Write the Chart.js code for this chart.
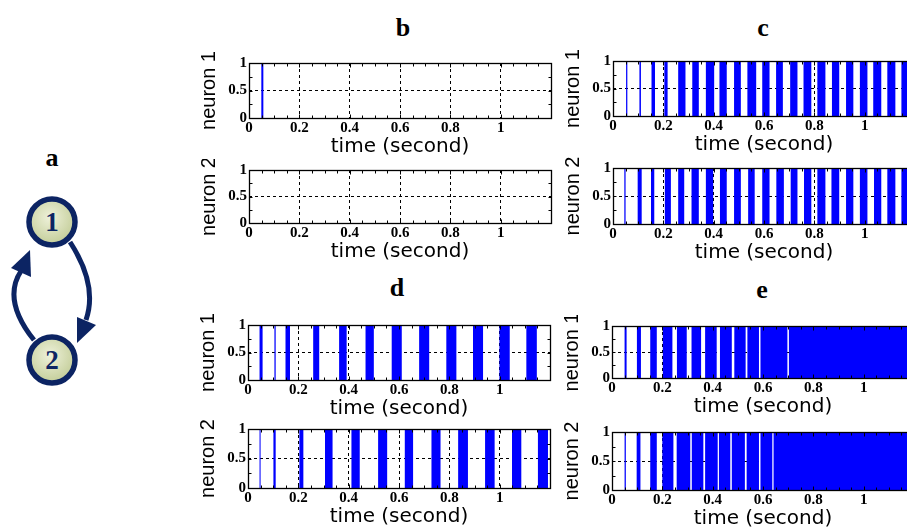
<!DOCTYPE html>
<html>
<head>
<meta charset="utf-8">
<script src="https://cdn.jsdelivr.net/npm/chart.js@4.4.1/dist/chart.umd.min.js"></script>
<style>
html, body { margin: 0; padding: 0; background: #fff; }
body { width: 907px; height: 530px; position: relative; overflow: hidden; }
canvas.panel { position: absolute; }
.lbl { position: absolute; font: bold 26px "Liberation Serif", serif; transform: translate(-50%, -50%); color: #000; }
svg { position: absolute; left: 0; top: 0; }
</style>
</head>
<body>

<svg width="120" height="420" viewBox="0 0 120 420">
  <defs>
    <radialGradient id="nodeFill" cx="45%" cy="40%" r="60%">
      <stop offset="0%" stop-color="#eef1da"/>
      <stop offset="100%" stop-color="#c3cd98"/>
    </radialGradient>
  </defs>
  <text x="52" y="166" text-anchor="middle" font-family="Liberation Serif" font-weight="bold" font-size="26">a</text>
  <path d="M 70 242 Q 98 285 86 320" fill="none" stroke="#0c2463" stroke-width="5"/>
  <polygon points="77,343 77,317 96,325" fill="#0c2463"/>
  <path d="M 34 340 Q 2 300 21 271" fill="none" stroke="#0c2463" stroke-width="5"/>
  <polygon points="30,250 11,268 31,277" fill="#0c2463"/>
  <circle cx="52" cy="222" r="23" fill="url(#nodeFill)" stroke="#0c2463" stroke-width="5.5"/>
  <text x="52" y="231" text-anchor="middle" font-family="Liberation Serif" font-weight="bold" font-size="27" fill="#0c2463">1</text>
  <circle cx="52" cy="360" r="23" fill="url(#nodeFill)" stroke="#0c2463" stroke-width="5.5"/>
  <text x="52" y="369" text-anchor="middle" font-family="Liberation Serif" font-weight="bold" font-size="27" fill="#0c2463">2</text>
</svg>

<div class="lbl" style="left:403px;top:28px;">b</div>
<div class="lbl" style="left:763px;top:28px;">c</div>
<div class="lbl" style="left:397px;top:288px;">d</div>
<div class="lbl" style="left:762px;top:290px;">e</div>

<script>
// spike intervals [start, end] in seconds
const b1Spikes = [[0, 0.004], [0.049, 0.058]];
const b2Spikes = [[0, 0.004]];

const c1Spikes = [[0, 0.004], [0.052, 0.057], [0.105, 0.111], [0.153, 0.167], [0.204, 0.217],
  [0.259, 0.288], [0.315, 0.341], [0.369, 0.402], [0.423, 0.452], [0.481, 0.508], [0.534, 0.569],
  [0.593, 0.622], [0.648, 0.675], [0.704, 0.733], [0.757, 0.788], [0.812, 0.844], [0.870, 0.899],
  [0.926, 0.955], [0.981, 1.011], [1.034, 1.066], [1.090, 1.122], [1.146, 1.169]];
const c2Spikes = [[0, 0.004], [0.045, 0.050], [0.098, 0.114], [0.151, 0.164], [0.206, 0.230],
  [0.259, 0.283], [0.312, 0.341], [0.369, 0.398], [0.425, 0.452], [0.481, 0.508], [0.537, 0.563],
  [0.593, 0.622], [0.649, 0.679], [0.706, 0.733], [0.759, 0.788], [0.812, 0.844], [0.868, 0.899],
  [0.926, 0.955], [0.981, 1.011], [1.037, 1.066], [1.090, 1.122], [1.146, 1.175]];

const d1Spikes = [[0.045, 0.058], [0.105, 0.110], [0.149, 0.167], [0.259, 0.283], [0.362, 0.392],
  [0.467, 0.500], [0.571, 0.611], [0.680, 0.720], [0.788, 0.828], [0.894, 0.934], [0.999, 1.040],
  [1.106, 1.148]];
const d2Spikes = [[0.045, 0.050], [0.101, 0.110], [0.204, 0.220], [0.306, 0.336], [0.411, 0.444],
  [0.517, 0.553], [0.623, 0.656], [0.729, 0.765], [0.835, 0.874], [0.942, 0.980], [1.049, 1.086],
  [1.152, 1.192]];

const e1Spikes = [[0, 0.004], [0.050, 0.058], [0.099, 0.115], [0.152, 0.178], [0.202, 0.240],
  [0.258, 0.297], [0.316, 0.354], [0.370, 0.416], [0.429, 0.476], [0.486, 0.531], [0.538, 0.584],
  [0.590, 0.697], [0.703, 1.2]];
const e2Spikes = [[0, 0.004], [0.050, 0.055], [0.098, 0.113], [0.152, 0.178], [0.200, 0.244],
  [0.257, 0.311], [0.317, 0.363], [0.370, 0.420], [0.425, 0.470], [0.476, 0.528], [0.535, 0.584],
  [0.590, 0.637], [0.642, 1.2]];

const xTickVals = [0, 0.2, 0.4, 0.6, 0.8, 1];
const yTickVals = [0, 0.5, 1];
const xMinorStep = 0.05;
const yMinorStep = 0.25;
const X_MAX = 1.2;

// layout around each plot box
const PAD_L = 52, PAD_B = 41, PAD_T = 8, PAD_R = 8;
const PLOT_W = 302;

const panels = [
  { spikes: b1Spikes, ylab: "neuron 1", left: 249, top: 60, h: 58 },
  { spikes: b2Spikes, ylab: "neuron 2", left: 249, top: 167, h: 56 },
  { spikes: c1Spikes, ylab: "neuron 1", left: 612.5, top: 58, h: 58 },
  { spikes: c2Spikes, ylab: "neuron 2", left: 612.5, top: 165, h: 59 },
  { spikes: d1Spikes, ylab: "neuron 1", left: 248, top: 322, h: 57.5 },
  { spikes: d2Spikes, ylab: "neuron 2", left: 248, top: 426, h: 61.5 },
  { spikes: e1Spikes, ylab: "neuron 1", left: 611.7, top: 323.3, h: 55 },
  { spikes: e2Spikes, ylab: "neuron 2", left: 611.7, top: 429.3, h: 60.7 }
];

// each firing interval becomes a filled box from 0 to 1
function toOutline(spikes) {
  const pts = [];
  spikes.forEach(([s, e]) => {
    pts.push({ x: s, y: 0 }, { x: s, y: 1 }, { x: e, y: 1 }, { x: e, y: 0 });
  });
  return pts;
}

// box + small inward ticks, matlab style
const framePlugin = {
  id: "frame",
  afterDatasetsDraw(chart) {
    const { ctx, chartArea: a, scales: { x, y } } = chart;
    ctx.save();
    ctx.strokeStyle = "#000";
    ctx.lineWidth = 1;
    ctx.setLineDash([]);
    const L = Math.round(a.left) + 0.5, R = Math.round(a.right) + 0.5;
    const T = Math.round(a.top) + 0.5, B = Math.round(a.bottom) + 0.5;
    ctx.beginPath();
    for (let k = 1; k * xMinorStep < X_MAX - 1e-6; k++) {
      const v = k * xMinorStep;
      const px = Math.round(x.getPixelForValue(v)) + 0.5;
      const len = (Math.abs(v * 5 - Math.round(v * 5)) < 1e-6) ? 4 : 3;
      ctx.moveTo(px, T); ctx.lineTo(px, T + len);
      ctx.moveTo(px, B); ctx.lineTo(px, B - len);
    }
    for (let k = 1; k * yMinorStep < 1 - 1e-6; k++) {
      const py = Math.round(y.getPixelForValue(k * yMinorStep)) + 0.5;
      ctx.moveTo(L, py); ctx.lineTo(L + 3, py);
      ctx.moveTo(R, py); ctx.lineTo(R - 3, py);
    }
    ctx.stroke();
    ctx.lineWidth = 1.3;
    ctx.strokeRect(L, T, R - L, B - T);
    ctx.restore();
  }
};

const tickFont = { family: "Liberation Serif", weight: "bold", size: 15 };

function makePanel(p) {
  const cv = document.createElement("canvas");
  cv.className = "panel";
  cv.width = PAD_L + PLOT_W + PAD_R;
  cv.height = Math.round(PAD_T + p.h + PAD_B);
  cv.style.left = (p.left - PAD_L) + "px";
  cv.style.top = (p.top - PAD_T) + "px";
  document.body.appendChild(cv);

  new Chart(cv.getContext("2d"), {
    type: "line",
    data: {
      datasets: [{
        data: toOutline(p.spikes),
        borderColor: "rgba(0,0,0,0)",
        borderWidth: 0,
        backgroundColor: "#0000ff",
        fill: "origin",
        pointRadius: 0,
        tension: 0
      }]
    },
    options: {
      responsive: false,
      animation: false,
      layout: { padding: { top: PAD_T, right: PAD_R, left: 0, bottom: 0 } },
      plugins: { legend: { display: false }, tooltip: { enabled: false } },
      scales: {
        x: {
          type: "linear",
          min: 0,
          max: X_MAX,
          afterBuildTicks: s => { s.ticks = xTickVals.map(v => ({ value: v })); },
          afterFit: s => { s.height = PAD_B; },
          ticks: {
            autoSkip: false, maxRotation: 0, padding: 1,
            color: "#000", font: tickFont,
            callback: v => String(v)
          },
          grid: {
            drawTicks: false, lineWidth: 1,
            color: c => (c.tick && c.tick.value > 0 && c.tick.value < X_MAX) ? "#000" : "rgba(0,0,0,0)"
          },
          border: { display: false, dash: [3, 3] },
          title: {
            display: true, text: "time (second)", color: "#000", padding: 0,
            font: { family: "DejaVu Sans", size: 20, lineHeight: 1.2 }
          }
        },
        y: {
          min: 0,
          max: 1,
          afterBuildTicks: s => { s.ticks = yTickVals.map(v => ({ value: v })); },
          afterFit: s => { s.width = PAD_L; },
          ticks: { padding: 2, color: "#000", font: tickFont, callback: v => String(v) },
          grid: {
            drawTicks: false, lineWidth: 1,
            color: c => (c.tick && c.tick.value > 0 && c.tick.value < 1) ? "#000" : "rgba(0,0,0,0)"
          },
          border: { display: false, dash: [3, 3] },
          title: {
            display: true, text: p.ylab, color: "#000", padding: 0,
            font: { family: "Liberation Sans", size: 20, lineHeight: 1.2 }
          }
        }
      }
    },
    plugins: [framePlugin]
  });
}

panels.forEach(makePanel);
</script>
</body>
</html>
